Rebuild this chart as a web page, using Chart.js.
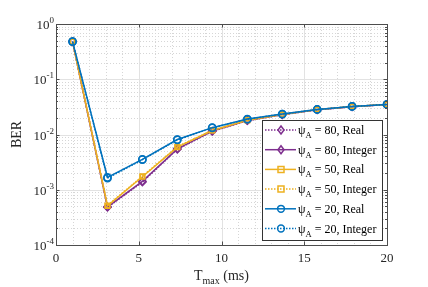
<!DOCTYPE html>
<html>
<head>
<meta charset="utf-8">
<script src="https://cdn.jsdelivr.net/npm/chart.js@4"></script>
<style>
  html, body { margin: 0; padding: 0; background: #fff; }
  #c { display: block; }
</style>
</head>
<body>
<canvas id="c" width="428" height="287"></canvas>
<script>
// ---- data ----
const tmax = [1, 3.11, 5.22, 7.33, 9.44, 11.56, 13.67, 15.78, 17.89, 20];
const ber80Real = [0.48, 4.8e-4, 1.38e-3, 5.4e-3, 0.0114, 0.0178, 0.0228, 0.0280, 0.0318, 0.0348];
const ber80Int  = [0.48, 4.9e-4, 1.42e-3, 5.5e-3, 0.0115, 0.0179, 0.0229, 0.0281, 0.0319, 0.0349];
const ber50Real = [0.48, 5.1e-4, 1.72e-3, 5.9e-3, 0.0118, 0.0181, 0.0231, 0.0282, 0.0320, 0.0349];
const ber50Int  = [0.48, 5.2e-4, 1.76e-3, 6.0e-3, 0.0119, 0.0182, 0.0232, 0.0283, 0.0321, 0.0350];
const ber20Real = [0.48, 1.68e-3, 3.55e-3, 8.1e-3, 0.0133, 0.0190, 0.0235, 0.0284, 0.0322, 0.0350];
const ber20Int  = [0.48, 1.62e-3, 3.50e-3, 8.0e-3, 0.0132, 0.0189, 0.0234, 0.0284, 0.0322, 0.0350];

const xTicks = [0, 5, 10, 15, 20];
const yDecades = [-4, -3, -2, -1, 0];

const PURPLE = '#7E2F8E', ORANGE = '#EDB120', BLUE = '#0072BD';
const SERIF = '"Liberation Serif", "DejaVu Serif", serif';
const DOT = [1.5, 1.5];

const series = [
  { psi: '80', kind: 'Real',    vals: ber80Real, color: PURPLE, style: 'rectRot', dash: DOT },
  { psi: '80', kind: 'Integer', vals: ber80Int,  color: PURPLE, style: 'rectRot', dash: [] },
  { psi: '50', kind: 'Real',    vals: ber50Real, color: ORANGE, style: 'rect',    dash: [] },
  { psi: '50', kind: 'Integer', vals: ber50Int,  color: ORANGE, style: 'rect',    dash: DOT },
  { psi: '20', kind: 'Real',    vals: ber20Real, color: BLUE,   style: 'circle',  dash: [] },
  { psi: '20', kind: 'Integer', vals: ber20Int,  color: BLUE,   style: 'circle',  dash: DOT }
];

const datasets = series.map((s, i) => ({
  label: s.psi + ', ' + s.kind,
  data: tmax.map((x, k) => ({ x: x, y: s.vals[k] })),
  borderColor: s.color,
  backgroundColor: 'rgba(0,0,0,0)',
  borderWidth: 1.5,
  borderDash: s.dash,
  pointStyle: s.style,
  pointRadius: s.style === 'rect' ? 3.2 : 3.6,
  pointBorderWidth: 1.5,
  pointBackgroundColor: 'rgba(0,0,0,0)',
  pointBorderColor: s.color,
  tension: 0,
  order: series.length - i
}));

// draws the MATLAB style grid, box, ticks, labels and legend
const matlabAxes = {
  id: 'matlabAxes',
  beforeDatasetsDraw(chart) {
    const ctx = chart.ctx, a = chart.chartArea;
    const xs = chart.scales.x, ys = chart.scales.y;
    ctx.save();
    ctx.lineWidth = 1;
    // minor grid
    ctx.strokeStyle = '#d6d6d6';
    ctx.setLineDash([1, 2]);
    for (let v = 1; v < 20; v++) {
      if (v % 5 === 0) continue;
      const px = Math.round(xs.getPixelForValue(v)) + 0.5;
      ctx.beginPath(); ctx.moveTo(px, a.top); ctx.lineTo(px, a.bottom); ctx.stroke();
    }
    for (let d = -4; d < 0; d++) {
      for (let m = 2; m <= 9; m++) {
        const py = Math.round(ys.getPixelForValue(m * Math.pow(10, d))) + 0.5;
        ctx.beginPath(); ctx.moveTo(a.left, py); ctx.lineTo(a.right, py); ctx.stroke();
      }
    }
    // major grid
    ctx.setLineDash([]);
    ctx.strokeStyle = '#e2e2e2';
    [5, 10, 15].forEach(v => {
      const px = Math.round(xs.getPixelForValue(v)) + 0.5;
      ctx.beginPath(); ctx.moveTo(px, a.top); ctx.lineTo(px, a.bottom); ctx.stroke();
    });
    [-3, -2, -1].forEach(d => {
      const py = Math.round(ys.getPixelForValue(Math.pow(10, d))) + 0.5;
      ctx.beginPath(); ctx.moveTo(a.left, py); ctx.lineTo(a.right, py); ctx.stroke();
    });
    ctx.restore();
  },
  afterDraw(chart) {
    const ctx = chart.ctx, a = chart.chartArea;
    const xs = chart.scales.x, ys = chart.scales.y;
    ctx.save();
    // box and ticks
    ctx.strokeStyle = '#4d4d4d';
    ctx.lineWidth = 1;
    ctx.setLineDash([]);
    ctx.strokeRect(Math.round(a.left) + 0.5, Math.round(a.top) + 0.5,
                   Math.round(a.right - a.left), Math.round(a.bottom - a.top));
    xTicks.forEach(v => {
      const px = Math.round(xs.getPixelForValue(v)) + 0.5;
      ctx.beginPath();
      ctx.moveTo(px, a.bottom); ctx.lineTo(px, a.bottom - 3.5);
      ctx.moveTo(px, a.top); ctx.lineTo(px, a.top + 3.5);
      ctx.stroke();
    });
    for (let d = -4; d <= 0; d++) {
      const py = Math.round(ys.getPixelForValue(Math.pow(10, d))) + 0.5;
      ctx.beginPath();
      ctx.moveTo(a.left, py); ctx.lineTo(a.left + 3.5, py);
      ctx.moveTo(a.right, py); ctx.lineTo(a.right - 3.5, py);
      ctx.stroke();
      if (d === 0) continue;
      for (let m = 2; m <= 9; m++) {
        const pm = Math.round(ys.getPixelForValue(m * Math.pow(10, d))) + 0.5;
        ctx.beginPath();
        ctx.moveTo(a.left, pm); ctx.lineTo(a.left + 2, pm);
        ctx.moveTo(a.right, pm); ctx.lineTo(a.right - 2, pm);
        ctx.stroke();
      }
    }

    // tick labels
    ctx.fillStyle = '#262626';
    ctx.font = '13px ' + SERIF;
    ctx.textAlign = 'center';
    ctx.textBaseline = 'alphabetic';
    xTicks.forEach(v => {
      ctx.fillText(String(v), xs.getPixelForValue(v), 262);
    });
    yDecades.forEach(d => {
      const py = ys.getPixelForValue(Math.pow(10, d));
      const exp = d === 0 ? '0' : '-' + String(-d);
      ctx.font = '9px ' + SERIF;
      const ew = ctx.measureText(exp).width;
      const right = a.left - 2;
      ctx.textAlign = 'left';
      ctx.fillText(exp, right - ew, py - 1);
      ctx.font = '13px ' + SERIF;
      ctx.textAlign = 'right';
      ctx.fillText('10', right - ew, py + 5);
    });

    // axis titles
    ctx.textAlign = 'left';
    ctx.font = '14px ' + SERIF;
    const tW = ctx.measureText('T').width;
    ctx.font = '10px ' + SERIF;
    const mW = ctx.measureText('max').width;
    ctx.font = '14px ' + SERIF;
    const rest = ' (ms)';
    const rW = ctx.measureText(rest).width;
    let tx = (a.left + a.right) / 2 - (tW + mW + rW) / 2;
    ctx.fillText('T', tx, 280);
    ctx.font = '10px ' + SERIF;
    ctx.fillText('max', tx + tW, 284);
    ctx.font = '14px ' + SERIF;
    ctx.fillText(rest, tx + tW + mW, 280);

    ctx.save();
    ctx.translate(21, (a.top + a.bottom) / 2);
    ctx.rotate(-Math.PI / 2);
    ctx.textAlign = 'center';
    ctx.fillText('BER', 0, 0);
    ctx.restore();

    // legend
    const lx = 262.5, ly = 120.5, lw = 120, lh = 120;
    ctx.fillStyle = '#fff';
    ctx.fillRect(lx, ly, lw, lh);
    ctx.strokeStyle = '#333';
    ctx.lineWidth = 1;
    ctx.strokeRect(lx, ly, lw, lh);
    series.forEach((s, i) => {
      const cy = 130 + i * 19.7;
      ctx.strokeStyle = s.color;
      ctx.lineWidth = 1.5;
      ctx.setLineDash(s.dash);
      ctx.beginPath(); ctx.moveTo(265, cy); ctx.lineTo(296, cy); ctx.stroke();
      ctx.setLineDash([]);
      ctx.beginPath();
      const mx = 281;
      if (s.style === 'circle') {
        ctx.arc(mx, cy, 3.4, 0, Math.PI * 2);
      } else if (s.style === 'rect') {
        ctx.rect(mx - 3, cy - 3, 6, 6);
      } else {
        ctx.moveTo(mx, cy - 4); ctx.lineTo(mx + 3, cy); ctx.lineTo(mx, cy + 4); ctx.lineTo(mx - 3, cy); ctx.closePath();
      }
      ctx.stroke();

      ctx.fillStyle = '#000';
      ctx.textAlign = 'left';
      ctx.font = '12px ' + SERIF;
      ctx.fillText('\u03C8', 298, cy + 4);
      const pw = ctx.measureText('\u03C8').width;
      ctx.font = '8.5px ' + SERIF;
      ctx.fillText('A', 298 + pw, cy + 8);
      const aw = ctx.measureText('A').width;
      ctx.font = '12px ' + SERIF;
      ctx.fillText(' = ' + s.psi + ', ' + s.kind, 298 + pw + aw, cy + 4);
    });
    ctx.restore();
  }
};

new Chart(document.getElementById('c'), {
  type: 'line',
  data: { datasets: datasets },
  options: {
    responsive: false,
    animation: false,
    devicePixelRatio: 1,
    layout: { padding: { top: 24, right: 41, left: 0, bottom: 0 } },
    plugins: { legend: { display: false }, tooltip: { enabled: false } },
    scales: {
      x: {
        type: 'linear', min: 0, max: 20,
        grid: { display: false }, border: { display: false },
        ticks: { display: false },
        afterFit: s => { s.height = 42; }
      },
      y: {
        type: 'logarithmic', min: 1e-4, max: 1,
        grid: { display: false }, border: { display: false },
        ticks: { display: false },
        afterFit: s => { s.width = 56; }
      }
    }
  },
  plugins: [matlabAxes]
});
</script>
</body>
</html>
